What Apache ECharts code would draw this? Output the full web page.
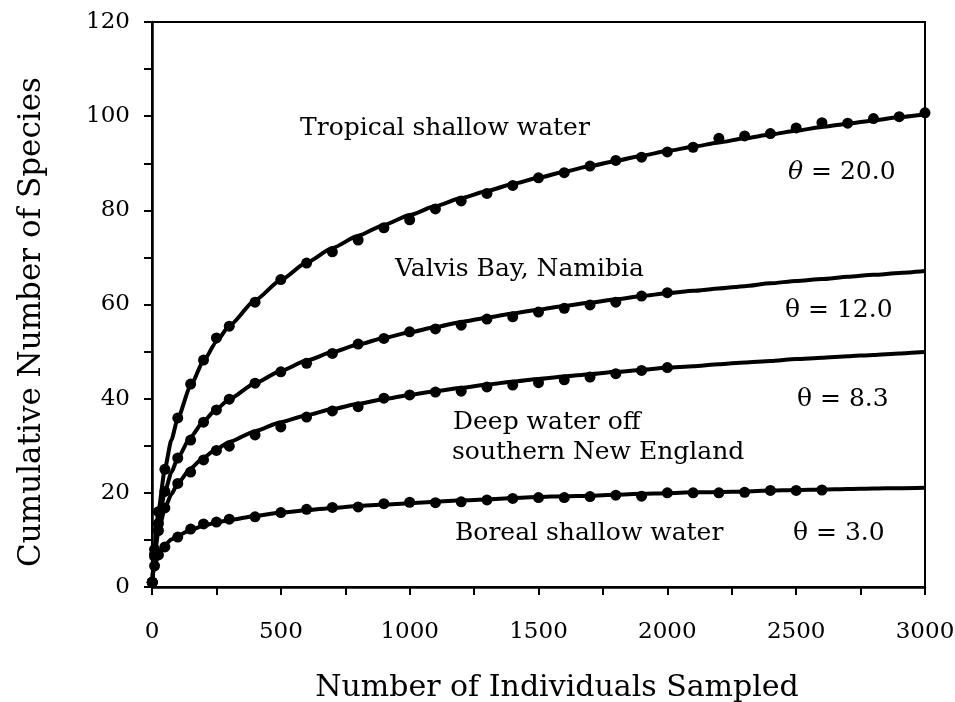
<!DOCTYPE html>
<html><head><meta charset="utf-8">
<script src="https://cdn.jsdelivr.net/npm/echarts@6/dist/echarts.min.js"></script>
<style>html,body{margin:0;padding:0;background:#fff}#c{width:955px;height:702px}</style>
</head><body><div id="c"></div>
<script>
// Fitted curves
const lineN = [0,2,5,10,25,50,75,100,150,200,250,300,400,500,600,700,800,900,1000,1100,1200,1300,1400,1500,1600,1700,1800,1900,2000,2100,2200,2300,2400,2500,2600,2700,2800,2900,3000];
const tropicalLine = [0,1.9,4.5,8.1,16.2,25.1,31.2,35.8,42.8,48.0,52.1,55.5,60.9,65.2,68.9,72.0,74.6,76.9,79.0,80.9,82.6,84.1,85.6,86.9,88.2,89.4,90.5,91.6,92.6,93.5,94.4,95.3,96.1,96.9,97.7,98.4,99.1,99.8,100.4];
const valvisLine   = [0,1.9,4.2,7.4,13.8,20.2,24.3,27.4,31.9,35.2,37.8,39.9,43.3,45.9,48.1,49.9,51.5,52.9,54.1,55.2,56.3,57.2,58.1,58.9,59.7,60.4,61.1,61.8,62.4,62.9,63.4,63.9,64.5,65.0,65.4,65.9,66.3,66.7,67.1];
const deepLine     = [0,1.8,3.9,6.7,11.9,16.7,19.7,22.0,25.2,27.5,29.3,30.8,33.1,35.0,36.5,37.8,38.9,39.9,40.8,41.6,42.3,43.0,43.6,44.2,44.7,45.2,45.7,46.1,46.6,46.9,47.3,47.7,48.0,48.4,48.7,49.0,49.3,49.6,49.9];
const borealLine   = [0,1.5,2.9,4.5,6.9,8.9,10.1,10.9,12.1,13.0,13.7,14.2,15.1,15.8,16.3,16.8,17.2,17.5,17.8,18.1,18.4,18.6,18.9,19.1,19.3,19.4,19.6,19.8,19.9,20.1,20.2,20.3,20.5,20.6,20.7,20.8,20.9,21.0,21.1];

// Observed points
const dotN = [1,10,25,50,100,150,200,250,300,400,500,600,700,800,900,1000,1100,1200,1300,1400,1500,1600,1700,1800,1900,2000,2100,2200,2300,2400,2500,2600,2700,2800,2900,3000];
const tropicalDots = [1,8,16,25,35.9,43.1,48.2,52.9,55.4,60.5,65.3,68.8,71.2,73.7,76.3,78.0,80.3,82.0,83.6,85.3,86.9,88.0,89.4,90.6,91.3,92.4,93.4,95.3,95.8,96.3,97.5,98.6,98.5,99.5,99.9,100.7];
const valvisDots   = [1,7,13.5,20.3,27.4,31.2,35.0,37.6,39.9,43.3,45.7,47.5,49.6,51.6,52.8,54.2,54.8,55.6,56.9,57.4,58.4,59.2,59.9,60.5,61.8,62.5];
const deepDots     = [1,6.5,12,16.8,22.0,24.4,27.0,29.0,29.9,32.3,34.0,36.1,37.4,38.3,40.1,40.8,41.4,41.6,42.5,42.9,43.4,44.0,44.6,45.3,46.0,46.6];
const borealDots   = [1,4.5,6.8,8.5,10.6,12.3,13.4,13.8,14.4,14.9,15.8,16.5,16.9,17.0,17.7,18.0,17.9,18.1,18.5,18.8,19.0,19.0,19.2,19.5,19.3,20.0,20.0,20.0,20.1,20.5,20.5,20.6];

const xTitle = 'Number of Individuals Sampled';
const yTitle = 'Cumulative Number of Species';

const FONT = 'DejaVu Serif';
const pairs = (xs, ys) => ys.map((y, i) => [xs[i], y]);

const lineSeries = [tropicalLine, valvisLine, deepLine, borealLine].map(v => ({
  type: 'line', data: pairs(lineN, v), showSymbol: false, smooth: 0.2, smoothMonotone: 'x',
  lineStyle: { color: '#000', width: 4 }, z: 2, silent: true
}));
const dotSeries = [tropicalDots, valvisDots, deepDots, borealDots].map(v => ({
  type: 'scatter', data: pairs(dotN, v), symbol: 'circle', symbolSize: 11,
  itemStyle: { color: '#000', opacity: 1 }, z: 3, silent: true
}));

const txt = (x, y, text, extra) => ({
  type: 'text', left: x, top: y,
  style: Object.assign({ text, font: '25px "DejaVu Serif"', fill: '#000' }, extra || {})
});

const chart = echarts.init(document.getElementById('c'), null, { renderer: 'canvas' });
chart.setOption({
  animation: false,
  backgroundColor: '#fff',
  grid: { left: 152, right: 30, top: 22, bottom: 115, containLabel: false, outerBoundsMode: 'none',
          show: true, borderColor: '#000', borderWidth: 2 },
  xAxis: {
    type: 'value', min: 0, max: 3000, interval: 250,
    axisLine: { lineStyle: { color: '#000', width: 2.5 } },
    axisTick: { length: 8, lineStyle: { color: '#000', width: 2 } },
    splitLine: { show: false },
    axisLabel: { formatter: v => (v % 500 === 0 ? String(v) : ''), fontFamily: FONT, fontSize: 23, color: '#000', margin: 34 }
  },
  yAxis: {
    type: 'value', min: 0, max: 120, interval: 10,
    axisLine: { lineStyle: { color: '#000', width: 2.5 } },
    axisTick: { length: 8, lineStyle: { color: '#000', width: 2 } },
    splitLine: { show: false },
    axisLabel: { formatter: v => (v % 20 === 0 ? String(v) : ''), fontFamily: FONT, fontSize: 23, color: '#000', margin: 22 }
  },
  series: lineSeries.concat(dotSeries),
  graphic: [
    { type: 'text', x: 557, y: 688, style: { text: xTitle, font: '30px "DejaVu Serif"', fill: '#000', align: 'center', verticalAlign: 'middle' } },
    { type: 'text', x: 32, y: 322, rotation: Math.PI / 2, style: { text: yTitle, font: '31px "DejaVu Serif"', fill: '#000', align: 'center', verticalAlign: 'middle' } },
    txt(300, 116, 'Tropical shallow water'),
    txt(395, 257, 'Valvis Bay, Namibia'),
    txt(453, 410, 'Deep water off'),
    txt(452, 440, 'southern New England'),
    txt(455, 521, 'Boreal shallow water'),
    txt(788, 160, '{i|θ} = 20.0', { rich: { i: { font: 'italic 25px "DejaVu Serif"', fill: '#000' } } }),
    txt(785, 298, 'θ = 12.0'),
    txt(797, 387, 'θ = 8.3'),
    txt(793, 521, 'θ = 3.0')
  ]
});
</script></body></html>
